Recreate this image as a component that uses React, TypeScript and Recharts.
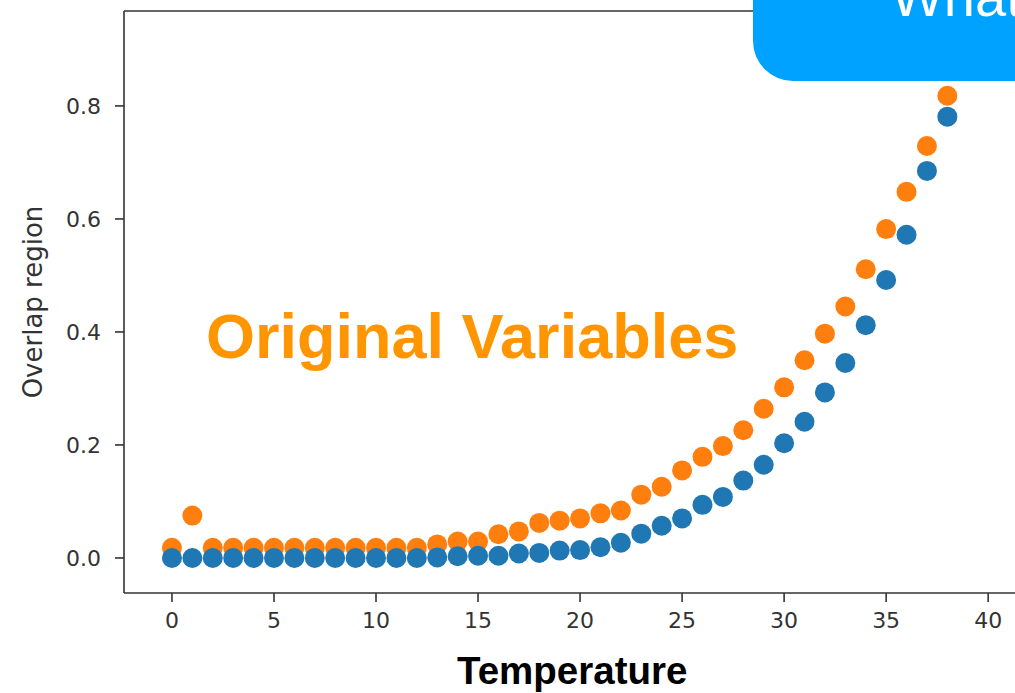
import React from 'react';
import {
  ScatterChart,
  Scatter,
  XAxis,
  YAxis,
  ReferenceLine,
} from 'recharts';

// temperature steps shown in the plot
const temperature = [
  0, 1, 2, 3, 4, 5, 6, 7, 8, 9, 10, 11, 12, 13, 14, 15, 16, 17, 18, 19,
  20, 21, 22, 23, 24, 25, 26, 27, 28, 29, 30, 31, 32, 33, 34, 35, 36, 37, 38,
];

// blue series
const overlapBlue = [
  0, 0, 0, 0, 0, 0, 0, 0, 0, 0, 0, 0, 0, 0.001, 0.003, 0.004, 0.004, 0.008,
  0.009, 0.013, 0.014, 0.019, 0.027, 0.043, 0.057, 0.07, 0.094, 0.108, 0.137,
  0.165, 0.203, 0.241, 0.293, 0.345, 0.412, 0.492, 0.572, 0.685, 0.781,
];

// orange series
const overlapOrange = [
  0.018, 0.075, 0.018, 0.018, 0.018, 0.018, 0.018, 0.018, 0.018, 0.018,
  0.018, 0.018, 0.018, 0.024, 0.029, 0.029, 0.042, 0.047, 0.062, 0.066,
  0.07, 0.079, 0.084, 0.112, 0.126, 0.155, 0.179, 0.198, 0.226, 0.264,
  0.302, 0.35, 0.397, 0.445, 0.511, 0.582, 0.648, 0.729, 0.818,
];

const xTicks = [0, 5, 10, 15, 20, 25, 30, 35, 40];
const yTicks = [0, 0.2, 0.4, 0.6, 0.8];

const X_MIN = -2.35;
const X_MAX = 47;
const Y_MIN = -0.062;
const Y_MAX = 0.968;

const blueData = temperature.map((t, i) => ({ t, v: overlapBlue[i] }));
const orangeData = temperature.map((t, i) => ({ t, v: overlapOrange[i] }));

const tickStyle = {
  fontFamily: 'DejaVu Sans',
  fontSize: 22,
  fill: '#333',
};

// matplotlib-ish dot
const dot = (color: string) => (props: any) => (
  <circle cx={props.cx} cy={props.cy} r={10} fill={color} />
);

export default function App() {
  return (
    <div
      style={{
        position: 'absolute',
        left: 0,
        top: 0,
        width: 1015,
        height: 693,
        overflow: 'hidden',
        background: '#fff',
      }}
    >
      <ScatterChart
        width={1140}
        height={693}
        margin={{ top: 11, right: 9, bottom: 0, left: 0 }}
      >
        <XAxis
          type="number"
          dataKey="t"
          domain={[X_MIN, X_MAX]}
          ticks={xTicks}
          allowDataOverflow
          height={100}
          tickSize={9}
          tickMargin={10}
          tick={tickStyle}
          stroke="#333"
          strokeWidth={1.6}
        />
        <YAxis
          type="number"
          dataKey="v"
          domain={[Y_MIN, Y_MAX]}
          ticks={yTicks}
          allowDataOverflow
          width={124}
          tickSize={9}
          tickMargin={14}
          tick={tickStyle}
          tickFormatter={(v: number) => v.toFixed(1)}
          stroke="#333"
          strokeWidth={1.6}
          label={{
            value: 'Overlap region',
            angle: -90,
            position: 'center',
            dx: -29,
            style: { fontFamily: 'DejaVu Sans', fontSize: 26, fill: '#333' },
          }}
        />
        <ReferenceLine y={Y_MAX} stroke="#333" strokeWidth={1.6} />
        <Scatter
          data={orangeData}
          fill="#ff7f0e"
          shape={dot('#ff7f0e')}
          isAnimationActive={false}
        />
        <Scatter
          data={blueData}
          fill="#1f77b4"
          shape={dot('#1f77b4')}
          isAnimationActive={false}
        />
      </ScatterChart>

      <div
        style={{
          position: 'absolute',
          left: 753,
          top: -60,
          width: 400,
          height: 141,
          background: '#00a2ff',
          borderRadius: 40,
          overflow: 'hidden',
        }}
      >
        <span
          style={{
            position: 'absolute',
            left: 138,
            top: 80 - 56 * 0.905,
            fontFamily: 'Liberation Sans, Arial, sans-serif',
            fontSize: 56,
            lineHeight: 1,
            color: '#fff',
            whiteSpace: 'nowrap',
          }}
        >
          What
        </span>
      </div>

      <div
        style={{
          position: 'absolute',
          left: 206,
          top: 362 - 63 * 0.905,
          fontFamily: 'Liberation Sans, Arial, sans-serif',
          fontWeight: 'bold',
          fontSize: 63,
          lineHeight: 1,
          color: '#ff9500',
          whiteSpace: 'nowrap',
        }}
      >
        Original Variables
      </div>

      <div
        style={{
          position: 'absolute',
          left: 457,
          top: 687 - 38.5 * 0.905,
          fontFamily: 'Liberation Sans, Arial, sans-serif',
          fontWeight: 'bold',
          fontSize: 38.5,
          lineHeight: 1,
          color: '#000',
          whiteSpace: 'nowrap',
        }}
      >
        Temperature
      </div>
    </div>
  );
}
